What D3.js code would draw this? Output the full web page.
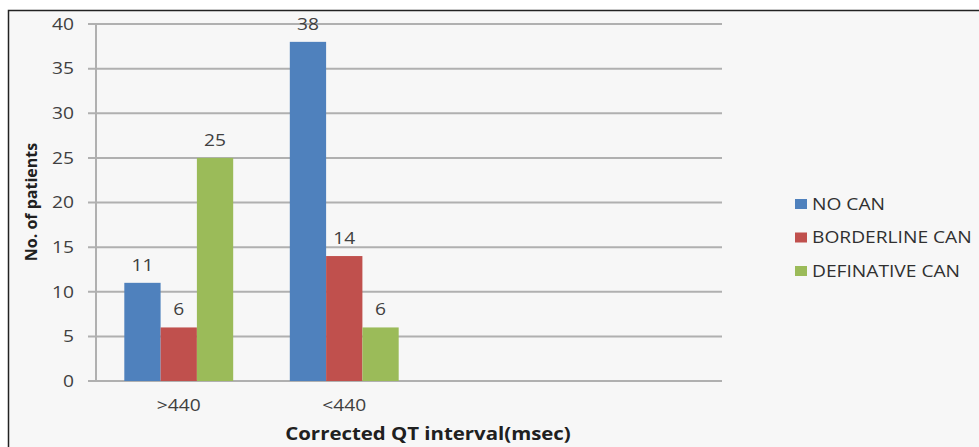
<!DOCTYPE html>
<html>
<head>
<meta charset="utf-8">
<script src="https://cdn.jsdelivr.net/npm/d3@7"></script>
<style>
  html, body { margin: 0; padding: 0; background: #ffffff; }
  svg { display: block; }
  text { font-family: "Open Sans", "Lato", sans-serif; }
</style>
</head>
<body>
<svg id="chart" width="979" height="447"></svg>
<script>
// QTc interval groups and patient counts per CAN status
const categories = [">440", "<440"];
const seriesNames = ["NO CAN", "BORDERLINE CAN", "DEFINATIVE CAN"];
const noCan = [11, 38];
const borderlineCan = [6, 14];
const definativeCan = [25, 6];
const yTicks = [0, 5, 10, 15, 20, 25, 30, 35, 40];
const colors = ["#4f81bd", "#c0504d", "#9bbb59"];

const seriesValues = [noCan, borderlineCan, definativeCan];
const svg = d3.select("#chart");

// the whole chart is drawn with slightly widened lettering
const stretch = 1.2;
function label(parent, x, y) {
  return parent.append("g")
    .attr("transform", `translate(${x},${y}) scale(${stretch},1)`)
    .append("text");
}

// outer frame
svg.append("rect")
  .attr("x", 8.5).attr("y", 10.5)
  .attr("width", 990).attr("height", 460)
  .attr("fill", "#f7f7f7")
  .attr("stroke", "#222").attr("stroke-width", 1.5);

const plot = { left: 96, right: 722, top: 24, bottom: 381 };
const catWidth = 165.5;

const y = d3.scaleLinear().domain([0, 40]).range([plot.bottom, plot.top]);
const x0 = d3.scaleBand().domain(categories)
  .range([plot.left, plot.left + catWidth * categories.length])
  .paddingInner(0).paddingOuter(0);
const x1 = d3.scaleBand().domain(seriesNames)
  .range([0, x0.bandwidth()])
  .paddingInner(0).paddingOuter(0.78);

// horizontal gridlines
svg.append("g").selectAll("line").data(yTicks).join("line")
  .attr("x1", plot.left - 8).attr("x2", plot.right)
  .attr("y1", d => y(d)).attr("y2", d => y(d))
  .attr("stroke", "#b0b0b0").attr("stroke-width", 2);

// y axis line
svg.append("line")
  .attr("x1", plot.left).attr("x2", plot.left)
  .attr("y1", plot.top).attr("y2", plot.bottom)
  .attr("stroke", "#b0b0b0").attr("stroke-width", 2);

// y tick labels
yTicks.forEach(t => {
  label(svg, 74, y(t))
    .attr("dy", "0.36em")
    .attr("text-anchor", "end")
    .attr("font-size", 16)
    .attr("fill", "#404040")
    .text(t);
});

// bars and value labels
categories.forEach((c, i) => {
  const g = svg.append("g").attr("transform", `translate(${x0(c)},0)`);
  seriesNames.forEach((s, j) => {
    const v = seriesValues[j][i];
    g.append("rect")
      .attr("x", x1(s))
      .attr("width", x1.bandwidth())
      .attr("y", y(v))
      .attr("height", y(0) - y(v))
      .attr("fill", colors[j]);
    label(g, x1(s) + x1.bandwidth() / 2, y(v) - 12)
      .attr("text-anchor", "middle")
      .attr("font-size", 16)
      .attr("fill", "#404040")
      .text(v);
  });
  // category label
  label(svg, x0(c) + x0.bandwidth() / 2, 411)
    .attr("text-anchor", "middle")
    .attr("font-size", 16)
    .attr("fill", "#404040")
    .text(c);
});

// axis titles
label(svg, 428, 440)
  .attr("text-anchor", "middle")
  .attr("font-size", 17)
  .attr("font-weight", "bold")
  .attr("fill", "#202020")
  .text("Corrected QT interval(msec)");

svg.append("text")
  .attr("transform", "translate(37,202) rotate(-90)")
  .attr("text-anchor", "middle")
  .attr("font-family", "'Liberation Sans Narrow', 'Liberation Sans', sans-serif")
  .attr("font-size", 16)
  .attr("font-weight", "bold")
  .attr("fill", "#202020")
  .text("No. of patients");

// legend
seriesNames.forEach((s, i) => {
  const cy = 204 + i * 33.5;
  svg.append("rect")
    .attr("x", 795).attr("y", cy - 5)
    .attr("width", 12).attr("height", 10)
    .attr("fill", colors[i]);
  label(svg, 812, cy)
    .attr("dy", "0.36em")
    .attr("font-size", 16)
    .attr("fill", "#303030")
    .text(s);
});
</script>
</body>
</html>
